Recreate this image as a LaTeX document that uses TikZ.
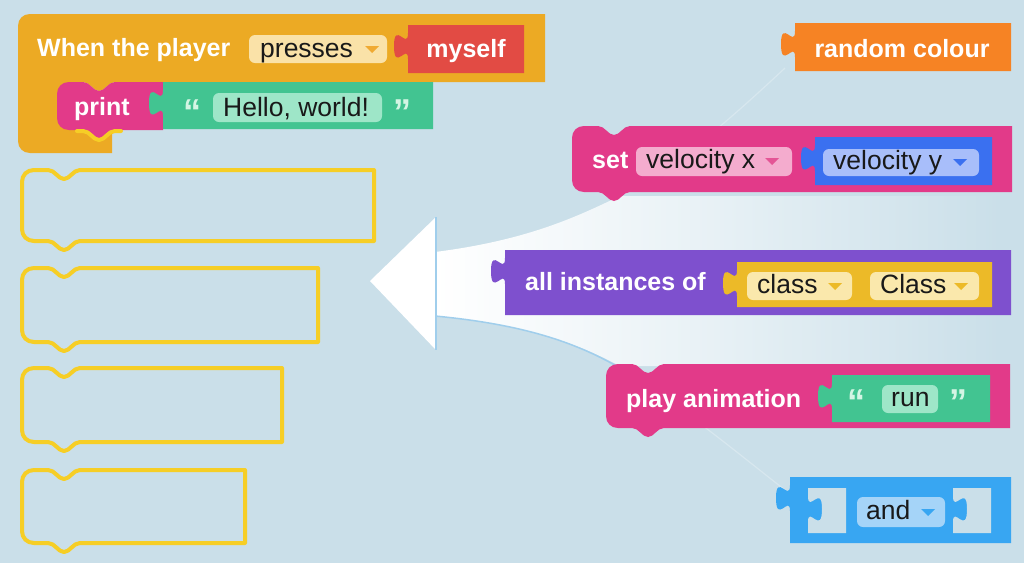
\documentclass[tikz,border=0pt]{standalone}
\usepackage{fontspec}
\setmainfont{Liberation Sans}
\usepackage{tikz}
\usetikzlibrary{calc}

\definecolor{bgblue}{RGB}{202,223,233}
\definecolor{eventorange}{RGB}{236,170,36}
\definecolor{myselfred}{RGB}{226,75,68}
\definecolor{fieldyellow}{RGB}{250,226,168}
\definecolor{ddorange}{RGB}{240,170,50}
\definecolor{stmtpink}{RGB}{226,58,137}
\definecolor{textgreen}{RGB}{66,196,145}
\definecolor{hellofield}{RGB}{158,230,200}
\definecolor{quotegreen}{RGB}{212,245,228}
\definecolor{randorange}{RGB}{246,131,36}
\definecolor{velxfield}{RGB}{244,172,206}
\definecolor{ddpink}{RGB}{228,85,150}
\definecolor{velblue}{RGB}{58,112,240}
\definecolor{velyfield}{RGB}{168,190,250}
\definecolor{instpurple}{RGB}{126,80,206}
\definecolor{classyellow}{RGB}{236,186,40}
\definecolor{classfield}{RGB}{250,232,172}
\definecolor{andblue}{RGB}{56,166,242}
\definecolor{andfield}{RGB}{165,212,248}
\definecolor{ghostyellow}{RGB}{246,206,38}
\definecolor{beamblue}{RGB}{160,206,236}

\newcommand{\stmtpath}[4]{(#1,#2+12) .. controls (#1,#2+5) and (#1+5,#2) .. (#1+12,#2) -- (#1+26,#2) .. controls (#1+33,#2) and (#1+36,#2+9) .. (#1+42,#2+9) .. controls (#1+48,#2+9) and (#1+51,#2) .. (#1+58,#2) -- (#1+#3,#2) -- (#1+#3,#2+#4) -- (#1+58,#2+#4) .. controls (#1+51,#2+#4) and (#1+48,#2+#4+9) .. (#1+42,#2+#4+9) .. controls (#1+36,#2+#4+9) and (#1+33,#2+#4) .. (#1+26,#2+#4) -- (#1+12,#2+#4) .. controls (#1+5,#2+#4) and (#1,#2+#4-5) .. (#1,#2+#4-12) -- cycle}
\newcommand{\valpath}[4]{(#1,#2) -- (#1+#3,#2) -- (#1+#3,#2+#4) -- (#1,#2+#4) -- (#1,#2+34) .. controls (#1,#2+17) and (#1-14,#2+48) .. (#1-14,#2+21) .. controls (#1-14,#2-5) and (#1,#2+26) .. (#1,#2+8) -- cycle}
\newcommand{\holepath}[4]{(#1,#2) -- (#1+#3,#2) -- (#1+#3,#2+#4) -- (#1,#2+#4) -- (#1,#2+34) .. controls (#1,#2+17) and (#1+14,#2+48) .. (#1+14,#2+21) .. controls (#1+14,#2-5) and (#1,#2+26) .. (#1,#2+8) -- cycle}
\newcommand{\ddarrow}[3]{\fill[#3] (#1-7,#2-3) -- (#1+7,#2-3) -- (#1,#2+4) -- cycle;}

\begin{document}
\begin{tikzpicture}[x=1pt, y=-1pt,
    lbl/.style={text=white, font=\bfseries\fontsize{25}{30}\selectfont, inner sep=0pt, anchor=base west},
    fld/.style={text=black!90, font=\fontsize{26.5}{30}\selectfont, inner sep=0pt, anchor=base west},
    quot/.style={text=quotegreen, font=\bfseries\fontsize{36}{36}\selectfont, inner sep=0pt, anchor=base},
    ghost/.style={draw=ghostyellow, line width=4pt, line join=round},
    beam/.style={draw=beamblue, line width=1.5pt}]
    \useasboundingbox (0,0) rectangle (1024,563);
    \fill[bgblue] (0,0) rectangle (1024,563);
    \shade[left color=white, right color=bgblue, middle color=bgblue!45!white] (435,252) .. controls (530,240) and (580,215) .. (620,196) -- (1000,196) -- (1000,366) -- (620,366) .. controls (580,345) and (530,325) .. (435,316) -- cycle;
    \draw[white, opacity=0.25, line width=1.2pt] (620,196) .. controls (680,165) and (740,110) .. (785,68);
    \draw[white, opacity=0.25, line width=1.2pt] (620,368) .. controls (680,405) and (740,455) .. (785,490);
    \draw[beam] (435,316) .. controls (530,325) and (580,345) .. (620,368);
    \fill[white] (370,281) -- (436,217) -- (436,350) -- cycle;
    \draw[beam] (436,217) -- (436,350);
    \foreach \gy/\gw/\gh in {170/352/71, 268/296/74, 368/260/74, 470/223/73}
        \draw[ghost] \stmtpath{22}{\gy}{\gw}{\gh};
    \fill[eventorange] (18,26) .. controls (18,19) and (23,14) .. (30,14) -- (545,14) -- (545,82) -- (115,82) .. controls (108,82) and (105,91) .. (99,91) .. controls (93,91) and (90,82) .. (83,82) -- (70,82) -- (70,130) -- (112,130) -- (112,153) -- (30,153) .. controls (23,153) and (18,148) .. (18,141) -- cycle;
    \fill[fieldyellow, rounded corners=6] (249,35) rectangle (387,63);
    \ddarrow{372}{49}{ddorange}
    \fill[myselfred] \valpath{408}{25}{116}{48};
    \fill[stmtpink] \stmtpath{57}{82}{106}{48};
    \draw[ghostyellow, line width=4pt, line cap=round] (77,131) -- (83,131) .. controls (90,131) and (93,140) .. (99,140) .. controls (105,140) and (108,131) .. (115,131) -- (121,131);
    \fill[textgreen] \valpath{163}{82}{270}{47};
    \fill[hellofield, rounded corners=6] (213,93) rectangle (382,122);
    \node[lbl] (when) at (37,56) {When the player};
    \node[fld] (presses) at (260,57) {presses};
    \node[lbl, anchor=base] (myself) at (466,57) {myself};
    \node[lbl] (print) at (74,115) {print};
    \node[quot] (hopen) at (192,124) {“};
    \node[fld] (hello) at (223,116) {Hello, world!};
    \node[quot] (hclose) at (402,124) {”};
    \fill[randorange] \valpath{795}{23}{216}{48};
    \node[lbl, anchor=base] (randcol) at (902,57) {random colour};
    \fill[stmtpink] \stmtpath{572}{126}{440}{66};
    \fill[velxfield, rounded corners=6] (636,147) rectangle (792,176);
    \ddarrow{772}{161}{ddpink}
    \fill[velblue] \valpath{815}{137}{177}{48};
    \fill[velyfield, rounded corners=6] (823,149) rectangle (979,176);
    \ddarrow{960}{162}{velblue}
    \node[lbl] (set) at (592,168) {set};
    \node[fld] (velx) at (646,168) {velocity x};
    \node[fld] (vely) at (833,169) {velocity y};
    \fill[instpurple] \valpath{505}{250}{506}{65};
    \fill[classyellow] \valpath{737}{262}{255}{45};
    \fill[classfield, rounded corners=6] (747,272) rectangle (852,300);
    \fill[classfield, rounded corners=6] (870,272) rectangle (979,300);
    \ddarrow{835}{286}{classyellow}
    \ddarrow{961}{286}{classyellow}
    \node[lbl] (allinst) at (525,290) {all instances of};
    \node[fld] (classlow) at (757,293) {class};
    \node[fld] (classup) at (880,293) {Class};
    \fill[stmtpink] \stmtpath{606}{364}{404}{64};
    \fill[textgreen] \valpath{832}{375}{158}{47};
    \fill[hellofield, rounded corners=6] (882,385) rectangle (938,413);
    \node[lbl] (play) at (626,407) {play animation};
    \node[quot] (ropen) at (856,414) {“};
    \node[fld] (run) at (891,406) {run};
    \node[quot] (rclose) at (958,414) {”};
    \fill[andblue] \valpath{790}{477}{221}{66};
    \fill[bgblue] \holepath{808}{488}{38}{45};
    \fill[bgblue] \holepath{953}{488}{38}{45};
    \fill[andfield, rounded corners=6] (857,497) rectangle (945,527);
    \ddarrow{928}{512}{andblue}
    \node[fld] (and) at (866,519) {and};
\end{tikzpicture}
\end{document}
